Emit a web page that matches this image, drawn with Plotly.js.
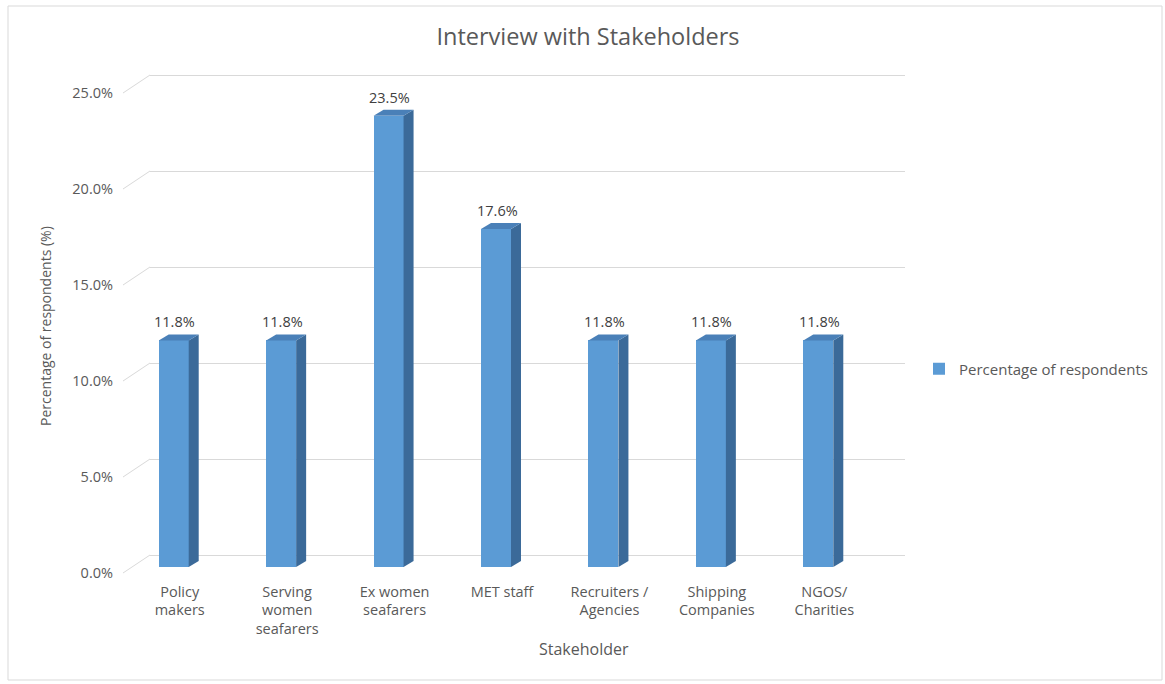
<!DOCTYPE html>
<html>
<head>
<meta charset="utf-8">
<script src="https://cdn.plot.ly/plotly-3.0.1.min.js"></script>
<style>html,body{margin:0;padding:0;background:#fff;}#chart{width:1165px;height:684px;}</style>
</head>
<body>
<div id="chart"></div>
<script>
// ---- data ----
const categories = ["Policy<br>makers", "Serving<br>women<br>seafarers", "Ex women<br>seafarers", "MET staff", "Recruiters /<br>Agencies", "Shipping<br>Companies", "NGOS/<br>Charities"];
const values = [11.8, 11.8, 23.5, 17.6, 11.8, 11.8, 11.8];
const valueLabels = ["11.8%", "11.8%", "23.5%", "17.6%", "11.8%", "11.8%", "11.8%"];
const tickVals = [0, 5, 10, 15, 20, 25];
const tickText = ["0.0%", "5.0%", "10.0%", "15.0%", "20.0%", "25.0%"];
const seriesName = "Percentage of respondents";

// ---- layout geometry ----
const W = 1165, H = 684;
const FONT = "'Open Sans', Lato, sans-serif";
const GREY = "#595959";
const frontTop = 87, frontBottom = 567;      // bar (front) plane
const backTop = 75, backBottom = 555;        // back wall
const pxPerUnit = (frontBottom - frontTop) / 25;
const barW = 0.28, halfPx = 15, depthX = 10, depthY = 6;
const pad = 1;                 // range padding on the back wall so end gridlines are drawn
const padPx = pad * pxPerUnit;

const traces = [
  { // back wall subplot (gridlines only)
    x: [0.5], y: [0], xaxis: "x", yaxis: "y", type: "scatter", mode: "markers",
    marker: {opacity: 0}, hoverinfo: "skip", showlegend: false
  },
  {
    x: categories, y: values, xaxis: "x2", yaxis: "y2", type: "bar",
    name: seriesName, width: barW,
    marker: {color: "#5B9BD5"}, showlegend: true
  }
];

const shapes = [];
// chart border
shapes.push({type: "rect", xref: "paper", yref: "paper", x0: 8/W, x1: 1162/W, y0: 1 - 680/H, y1: 1 - 6/H,
  line: {color: "#d9d9d9", width: 1}});
// side wall diagonals at each tick
tickVals.forEach(t => {
  shapes.push({type: "line", xref: "paper", yref: "y", ysizemode: "pixel", yanchor: t,
    x0: 150/W, x1: 123/W, y0: 0, y1: -18, line: {color: "#d9d9d9", width: 1}, layer: "below"});
});
// 3D faces of bars
values.forEach((v, i) => {
  const h = v * pxPerUnit;
  shapes.push({type: "path", xref: "x2", yref: "y2", xsizemode: "pixel", ysizemode: "pixel",
    xanchor: i, yanchor: v,
    path: `M${halfPx},0 L${halfPx + depthX},${depthY} L${halfPx + depthX},${-h + depthY} L${halfPx},${-h} Z`,
    fillcolor: "#3B6A99", line: {width: 0}});
  shapes.push({type: "path", xref: "x2", yref: "y2", xsizemode: "pixel", ysizemode: "pixel",
    xanchor: i, yanchor: v,
    path: `M${-halfPx},0 L${halfPx},0 L${halfPx + depthX},${depthY} L${-halfPx + depthX},${depthY} Z`,
    fillcolor: "#4A80B8", line: {width: 0}});
});

const annotations = values.map((v, i) => ({
  x: i, y: v, xref: "x2", yref: "y2", text: valueLabels[i], showarrow: false,
  xanchor: "center", yanchor: "bottom", yshift: 7, xshift: 1,
  font: {family: FONT, size: 14.5, color: "#404040"}
}));
annotations.push({
  text: "Percentage of respondents (%)", xref: "paper", yref: "paper",
  x: 45/W, y: 1 - 326/H, xanchor: "center", yanchor: "middle", textangle: -90, showarrow: false,
  font: {family: FONT, size: 14, color: GREY}
});
annotations.push({
  text: "Stakeholder", xref: "paper", yref: "paper",
  x: 584/W, y: 1 - 649/H, xanchor: "center", yanchor: "middle", showarrow: false,
  font: {family: FONT, size: 16, color: GREY}
});

const layout = {
  width: W, height: H,
  margin: {l: 0, r: 0, t: 0, b: 0},
  paper_bgcolor: "#fff", plot_bgcolor: "rgba(0,0,0,0)",
  font: {family: FONT, color: GREY},
  title: {text: "Interview with Stakeholders", x: 588/W, xanchor: "center", y: 1 - 37/H, yanchor: "middle",
    font: {family: FONT, size: 23.5, color: GREY}},
  xaxis: {domain: [150/W, 905/W], range: [0, 1], showgrid: false, zeroline: false,
    showticklabels: false, ticks: "", fixedrange: true},
  yaxis: {domain: [1 - (backBottom + padPx)/H, 1 - (backTop - padPx)/H], range: [-pad, 25 + pad], tickvals: tickVals,
    showgrid: true, gridcolor: "#d9d9d9", gridwidth: 1, zeroline: false, showticklabels: false, ticks: ""},
  xaxis2: {domain: [120/W, 872/W], anchor: "y2", type: "category", range: [-0.5, 6.5],
    showgrid: false, zeroline: false, showline: false, ticks: "", ticklabelstandoff: 14, ticklabelshift: 6,
    tickfont: {family: FONT, size: 14.5, color: GREY}},
  yaxis2: {domain: [1 - frontBottom/H, 1 - frontTop/H], anchor: "x2", range: [0, 25],
    tickvals: tickVals, ticktext: tickText, showgrid: false, zeroline: false, showline: false,
    ticks: "", ticklabelstandoff: 6, ticklabelshift: 6,
    tickfont: {family: FONT, size: 14.5, color: GREY}},
  showlegend: true,
  legend: {x: 919/W, xanchor: "left", y: 1 - 369/H, yanchor: "middle",
    font: {family: FONT, size: 15, color: GREY}, bgcolor: "rgba(0,0,0,0)"},
  shapes: shapes,
  annotations: annotations,
  bargap: 0
};

Plotly.newPlot("chart", traces, layout, {displayModeBar: false, staticPlot: true});
</script>
</body>
</html>
